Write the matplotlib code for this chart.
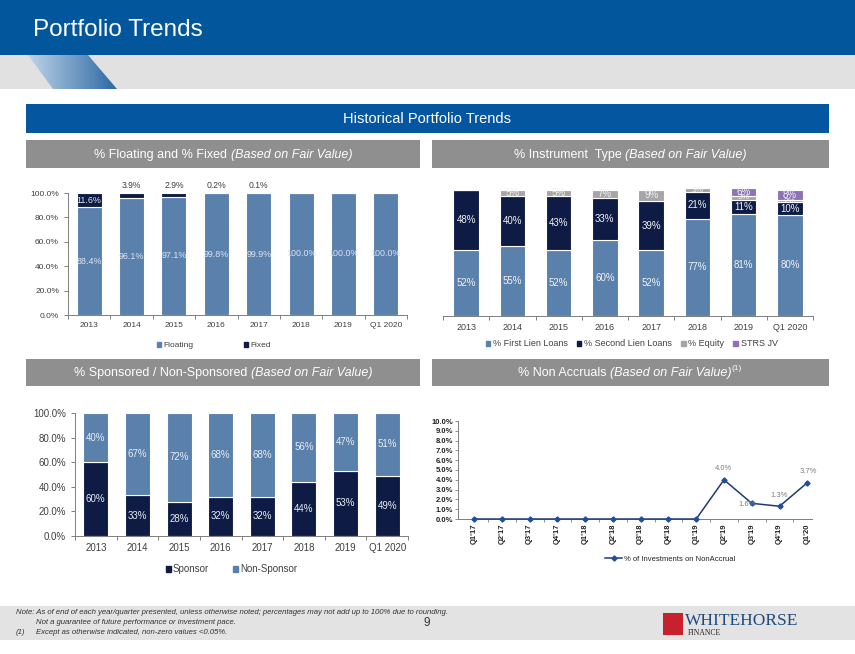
import matplotlib
matplotlib.use("Agg")
import matplotlib.pyplot as plt
import numpy as np
from matplotlib.patches import Rectangle, Polygon, Patch
from matplotlib.lines import Line2D

plt.rcParams["font.family"] = ["Liberation Sans", "DejaVu Sans"]

W, H = 855, 654

# ---- data ----
years = ["2013", "2014", "2015", "2016", "2017", "2018", "2019", "Q1 2020"]

floating = [88.4, 96.1, 97.1, 99.8, 99.9, 100.0, 100.0, 100.0]
fixed = [11.6, 3.9, 2.9, 0.2, 0.1, 0.0, 0.0, 0.0]

first_lien = [52, 55, 52, 60, 52, 77, 81, 80]
second_lien = [48, 40, 43, 33, 39, 21, 11, 10]
equity = [0, 5, 5, 7, 9, 3, 3, 2]
strs_jv = [0, 0, 0, 0, 0, 0, 6, 8]

sponsor = [60, 33, 28, 32, 32, 44, 53, 49]
non_sponsor = [40, 67, 72, 68, 68, 56, 47, 51]

quarters = ["Q1'17", "Q2'17", "Q3'17", "Q4'17", "Q1'18", "Q2'18", "Q3'18",
            "Q4'18", "Q1'19", "Q2'19", "Q3'19", "Q4'19", "Q1'20"]
non_accrual = [0.0, 0.0, 0.0, 0.0, 0.0, 0.0, 0.0, 0.0, 0.0, 4.0, 1.6, 1.3, 3.7]

# ---- colours ----
STEEL = "#5A80AC"
NAVY = "#0E1B45"
EQ_GRAY = "#A6A6A6"
PURPLE = "#8E72B8"
TITLE_BLUE = "#02569C"
HDR_GRAY = "#8F8F8F"
TXT = "#404040"

fig = plt.figure(figsize=(W / 100, H / 100), dpi=100)
fig.patch.set_facecolor("white")


def px_axes(x0, y0, x1, y1):
    return fig.add_axes([x0 / W, 1 - y1 / H, (x1 - x0) / W, (y1 - y0) / H])


# ---- slide background ----
bg = fig.add_axes([0, 0, 1, 1])
bg.set_xlim(0, W)
bg.set_ylim(H, 0)
bg.axis("off")

bg.add_patch(Rectangle((0, 0), W, 55, color=TITLE_BLUE, lw=0))
bg.add_patch(Rectangle((0, 55), W, 34, color="#E1E1E1", lw=0))
poly = Polygon([(28, 55), (88, 55), (117, 89), (53, 89)], closed=True, lw=0, fc="none")
bg.add_patch(poly)
grad = np.linspace(0, 1, 100).reshape(1, -1)
im = bg.imshow(grad, extent=(28, 117, 89, 55), cmap=matplotlib.colors.LinearSegmentedColormap.from_list(
    "g", ["#BFD3E8", "#2A67A3"]), aspect="auto", zorder=1)
im.set_clip_path(poly)
bg.set_xlim(0, W)
bg.set_ylim(H, 0)
bg.text(33, 30, "Portfolio Trends", color="white", fontsize=17.5, va="center", ha="left")

bg.add_patch(Rectangle((26, 104), 803, 29, color="#0556A0", lw=0))
bg.text(427, 119, "Historical Portfolio Trends", color="white", fontsize=10.5, ha="center", va="center")

for x0, x1, y0, y1 in [(26, 420, 140, 168), (432, 829, 140, 168),
                       (26, 420, 359, 386), (432, 829, 359, 386)]:
    bg.add_patch(Rectangle((x0, y0), x1 - x0, y1 - y0, color=HDR_GRAY, lw=0))

renderer = fig.canvas.get_renderer()


def rich_text(parts, cx, cy):
    objs = []
    widths = []
    for s, kw in parts:
        t = bg.text(0, cy, s, color="white", va="center", ha="left", **kw)
        bb = t.get_window_extent(renderer=renderer)
        objs.append(t)
        widths.append(bb.width)
    x = cx - sum(widths) / 2
    for t, w in zip(objs, widths):
        t.set_x(x)
        x += w
    return objs


rich_text([("% Floating and % Fixed ", dict(fontsize=9)),
           ("(Based on Fair Value)", dict(fontsize=9, style="italic"))], 223, 155)
rich_text([("% Instrument  Type ", dict(fontsize=9)),
           ("(Based on Fair Value)", dict(fontsize=9, style="italic"))], 630, 155)
rich_text([("% Sponsored / Non-Sponsored ", dict(fontsize=9)),
           ("(Based on Fair Value)", dict(fontsize=9, style="italic"))], 223, 373)
sup = rich_text([("% Non Accruals ", dict(fontsize=9)),
                 ("(Based on Fair Value)", dict(fontsize=9, style="italic")),
                 ("(1)", dict(fontsize=6))], 630, 373)
sup[-1].set_y(369)

# footer
bg.add_patch(Rectangle((0, 606), W, 34, color="#E3E3E3", lw=0))
ft = dict(fontsize=5.6, style="italic", color="#333333", va="center")
bg.text(16, 612, "Note: As of end of each year/quarter presented, unless otherwise noted; "
        "percentages may not add up to 100% due to rounding.", **ft)
bg.text(36, 622, "Not a guarantee of future performance or investment pace.", **ft)
bg.text(16, 632, "(1)", **ft)
bg.text(36, 632, "Except as otherwise indicated, non-zero values <0.05%.", **ft)
bg.text(427, 623, "9", fontsize=8.5, color="#333333", ha="center", va="center")
bg.add_patch(Rectangle((663, 613), 20, 22, color="#C7202F", lw=0))
bg.text(685, 621, "WHITEHORSE", family=["Liberation Serif", "DejaVu Serif"], fontsize=12.5,
        color="#1F4A7C", va="center", ha="left")
bg.text(688, 633, "FINANCE", family=["Liberation Serif", "DejaVu Serif"], fontsize=5.5,
        color="#222222", va="center", ha="left")


def style_bar_axes(ax, show_y=True, fs=6):
    ax.set_xlim(-0.5, len(years) - 0.5)
    ax.set_ylim(0, 100)
    for s in ["top", "right"]:
        ax.spines[s].set_visible(False)
    ax.spines["bottom"].set_color("#7F7F7F")
    ax.spines["bottom"].set_linewidth(0.7)
    ax.set_xticks(range(len(years)))
    ax.set_xticklabels(years, fontsize=fs, color=TXT)
    ax.set_xticks(np.arange(-0.5, len(years)), minor=True)
    ax.tick_params(axis="x", which="major", length=0, pad=5)
    ax.tick_params(axis="x", which="minor", length=3, color="#7F7F7F", width=0.7)
    if show_y:
        ax.spines["left"].set_color("#7F7F7F")
        ax.spines["left"].set_linewidth(0.7)
        ax.set_yticks(range(0, 101, 20))
        ax.set_yticklabels([f"{v:.1f}%" for v in range(0, 101, 20)], fontsize=fs, color=TXT)
        ax.tick_params(axis="y", length=3, color="#7F7F7F", width=0.7)
    else:
        ax.spines["left"].set_visible(False)
        ax.set_yticks([])


x = np.arange(len(years))

# ---- chart 1: floating / fixed ----
ax1 = px_axes(68, 193, 407, 315)
ax1.bar(x, floating, 0.59, color=STEEL, edgecolor="white", linewidth=0.8)
ax1.bar(x, fixed, 0.59, bottom=floating, color=NAVY, edgecolor="white", linewidth=0.8)
style_bar_axes(ax1, fs=6)
for i, v in enumerate(floating):
    ax1.text(i, v / 2, f"{v:.1f}%", ha="center", va="center", fontsize=6.4, color="#DCE4F0")
for i, v in enumerate(fixed):
    if v >= 10:
        ax1.text(i, floating[i] + v / 2, f"{v:.1f}%", ha="center", va="center", fontsize=6.4, color="#DCE4F0")
    elif v > 0:
        ax1.text(i, 102.5, f"{v:.1f}%", ha="center", va="bottom", fontsize=6.2, color=TXT, clip_on=False)
ax1.legend([Patch(color=STEEL), Patch(color=NAVY)], ["Floating", "Fixed"], loc="upper center",
           bbox_to_anchor=(0.43, -0.16), ncol=2, frameon=False, fontsize=6, handlelength=0.5,
           handleheight=0.5, handletextpad=0.3, columnspacing=6, labelcolor=TXT)

# ---- chart 2: instrument type ----
ax2 = px_axes(443, 189, 813, 316)
b = np.zeros(len(years))
for vals, col in [(first_lien, STEEL), (second_lien, NAVY), (equity, EQ_GRAY), (strs_jv, PURPLE)]:
    ax2.bar(x, vals, 0.55, bottom=b, color=col, edgecolor="white", linewidth=0.8)
    for i, v in enumerate(vals):
        if v > 0:
            ax2.text(i, b[i] + v / 2, f"{v}%", ha="center", va="center", fontsize=7 if v > 4 else 6,
                     color="#F2F2F2", clip_on=False)
    b = b + np.array(vals)
style_bar_axes(ax2, show_y=False, fs=6.5)
ax2.set_ylim(0, 100.5)
ax2.legend([Patch(color=STEEL), Patch(color=NAVY), Patch(color=EQ_GRAY), Patch(color=PURPLE)],
           ["% First Lien Loans", "% Second Lien Loans", "% Equity", "STRS JV"], loc="upper center",
           bbox_to_anchor=(0.51, -0.12), ncol=4, frameon=False, fontsize=6.5, handlelength=0.5,
           handleheight=0.5, handletextpad=0.3, columnspacing=1.0, labelcolor=TXT)

# ---- chart 3: sponsored / non-sponsored ----
ax3 = px_axes(75, 413, 408, 536)
ax3.bar(x, sponsor, 0.6, color=NAVY, edgecolor="white", linewidth=0.8)
ax3.bar(x, non_sponsor, 0.6, bottom=sponsor, color=STEEL, edgecolor="white", linewidth=0.8)
style_bar_axes(ax3, fs=7)
for i in range(len(years)):
    ax3.text(i, sponsor[i] / 2, f"{sponsor[i]}%", ha="center", va="center", fontsize=7, color="#E8ECF3")
    ax3.text(i, sponsor[i] + non_sponsor[i] / 2, f"{non_sponsor[i]}%", ha="center", va="center",
             fontsize=7, color="#E8ECF3")
ax3.legend([Patch(color=NAVY), Patch(color=STEEL)], ["Sponsor", "Non-Sponsor"], loc="upper center",
           bbox_to_anchor=(0.47, -0.16), ncol=2, frameon=False, fontsize=7, handlelength=0.5,
           handleheight=0.5, handletextpad=0.2, columnspacing=2.5, labelcolor=TXT)

# ---- chart 4: non accruals ----
LINE = "#203A74"
ax4 = px_axes(458, 421, 812, 519)
xq = np.arange(len(quarters))
ax4.plot(xq, non_accrual, color=LINE, lw=1.1, marker="D", ms=2.6, mfc="#1F4E9A", mec="#1F4E9A",
         label="% of Investments on NonAccrual", clip_on=False, zorder=3)
ax4.set_xlim(-0.58, 12.17)
ax4.set_ylim(0, 10)
for s in ["top", "right"]:
    ax4.spines[s].set_visible(False)
for s in ["left", "bottom"]:
    ax4.spines[s].set_color("#7F7F7F")
    ax4.spines[s].set_linewidth(0.7)
ax4.set_yticks(range(0, 11))
ax4.set_yticklabels([f"{v:.1f}%" for v in range(0, 11)], fontsize=5.5, fontweight="bold", color="#222222")
ax4.tick_params(axis="y", length=2, color="#7F7F7F", width=0.6, pad=1.5)
ax4.set_xticks(xq)
ax4.set_xticklabels(quarters, rotation=90, fontsize=5.5, fontweight="bold", color="#222222")
ax4.set_xticks(np.arange(0.5, 12.5), minor=True)
ax4.tick_params(axis="x", which="major", length=0, pad=3)
ax4.tick_params(axis="x", which="minor", length=2, color="#7F7F7F", width=0.6)
label_offsets = {9: (0, 8), 10: (-3, -1), 11: (0, 8), 12: (1, 8)}
for i, (dx, dy) in label_offsets.items():
    ax4.annotate(f"{non_accrual[i]:.1f}%", (i, non_accrual[i]), xytext=(dx, dy), textcoords="offset points",
                 ha="center", va="center", fontsize=5.5, color="#7F7F7F")
ax4.legend([Line2D([], [], color=LINE, lw=1.1, marker="D", ms=2.6, mfc="#1F4E9A", mec="#1F4E9A")],
           ["% of Investments on NonAccrual"], loc="upper center", bbox_to_anchor=(0.6, -0.3),
           frameon=False, fontsize=5.5, handlelength=2.2, handletextpad=0.3, labelcolor="#222222")

fig.savefig("out.png", dpi=100)
